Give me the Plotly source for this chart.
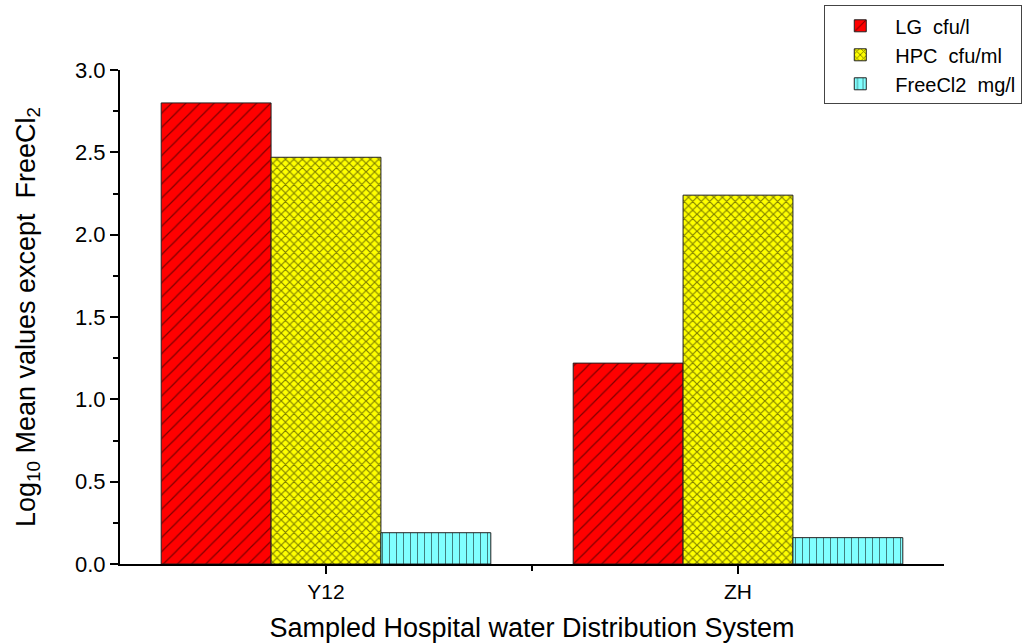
import plotly.graph_objects as go

categories = ["Y12", "ZH"]
series_names = ["LG  cfu/l", "HPC  cfu/ml", "FreeCl2  mg/l"]
lg_values = [2.80, 1.22]
hpc_values = [2.47, 2.24]
freecl2_values = [0.19, 0.16]

x_pos = list(range(len(categories)))

fig = go.Figure()
styles = [
    dict(color="#FF0000", shape="/", size=10, solidity=0.12),
    dict(color="#FFFF00", shape="x", size=6, solidity=0.35),
    dict(color="#80FFFF", shape="|", size=7, solidity=0.15),
]
for name, vals, st in zip(series_names, [lg_values, hpc_values, freecl2_values], styles):
    fig.add_trace(go.Bar(
        x=x_pos, y=vals, name=name,
        marker=dict(
            color=st["color"],
            line=dict(color="#222222", width=1),
            pattern=dict(shape=st["shape"], fgcolor="black", bgcolor=st["color"],
                         size=st["size"], solidity=st["solidity"], fillmode="overlay"),
        ),
    ))

font_family = "Liberation Sans, Arial, sans-serif"
fig.update_layout(
    width=1025, height=643,
    margin=dict(l=120, r=81, t=70, b=79, autoexpand=False),
    paper_bgcolor="white", plot_bgcolor="white",
    barmode="group", bargap=0.2, bargroupgap=0,
    font=dict(family=font_family, color="black", size=20),
    showlegend=True,
    legend=dict(
        x=1.095, xanchor="right", y=1.131, yanchor="top",
        bordercolor="#444444", borderwidth=1, bgcolor="white",
        font=dict(size=20, family=font_family), tracegroupgap=0,
        itemwidth=60,
    ),
    xaxis=dict(
        range=[-0.5, 1.5], tickvals=x_pos, ticktext=categories,
        showline=True, linecolor="black", linewidth=2,
        ticks="outside", ticklen=8, tickwidth=2, tickcolor="black",
        minor=dict(tickvals=[0.5], ticks="outside", ticklen=5, tickwidth=2, tickcolor="black"),
        showgrid=False, zeroline=False,
        title=dict(text="Sampled Hospital water Distribution System", font=dict(size=27), standoff=18),
        tickfont=dict(size=21),
    ),
    yaxis=dict(
        range=[0, 3.0], dtick=0.5, tickformat=".1f",
        showline=True, linecolor="black", linewidth=2,
        ticks="outside", ticklen=8, tickwidth=2, tickcolor="black",
        minor=dict(dtick=0.25, ticks="outside", ticklen=5, tickwidth=2, tickcolor="black"),
        showgrid=False, zeroline=False,
        title=dict(text="Log<sub>10</sub> Mean values except  FreeCl<sub>2</sub>", font=dict(size=27), standoff=32),
        tickfont=dict(size=22),
    ),
)

fig.write_html("out.html")
